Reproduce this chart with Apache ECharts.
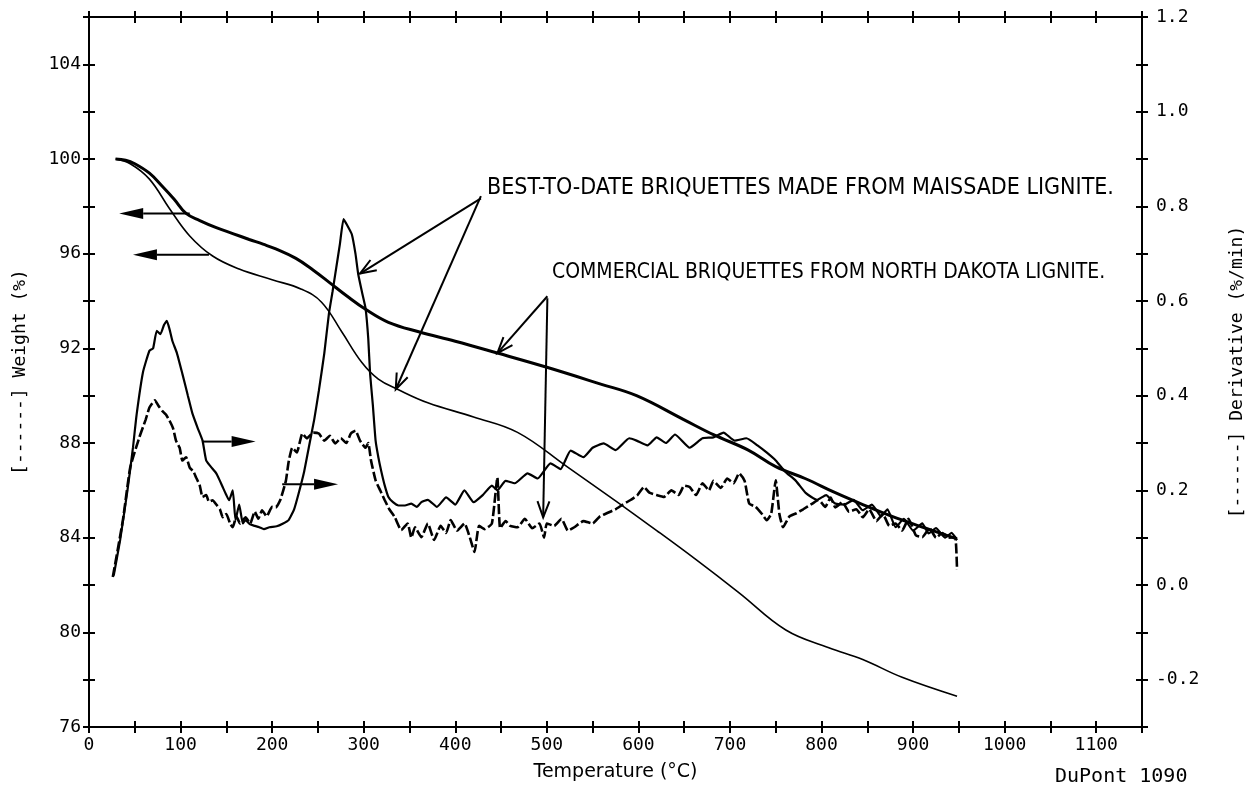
<!DOCTYPE html>
<html>
<head>
<meta charset="utf-8">
<title>TGA briquettes</title>
<script src="https://cdn.jsdelivr.net/npm/echarts@6/dist/echarts.min.js"></script>
<style>
  html, body { margin: 0; padding: 0; background: #fff; }
  #chart { width: 1254px; height: 790px; }
</style>
</head>
<body>
<div id="chart"></div>
<script>
// [temperature °C, weight %] - commercial briquettes, North Dakota lignite (heavy line)
const ndWeight = [
  [29, 100.0], [40, 99.95], [50, 99.8], [66, 99.4], [80, 98.85], [93, 98.3], [106, 97.7],
  [121, 97.4], [139, 97.1], [157, 96.85], [175, 96.6], [190, 96.4], [204, 96.2], [226, 95.8],
  [245, 95.3], [262, 94.8], [282, 94.2], [302, 93.65], [327, 93.1], [360, 92.7], [400, 92.3],
  [446, 91.8], [500, 91.2], [558, 90.5], [598, 90.0], [649, 89.0], [682, 88.35], [720, 87.7],
  [750, 87.0], [782, 86.5], [815, 85.9], [845, 85.4], [877, 84.9], [910, 84.45], [948, 83.95]
];
// best-to-date briquettes, Maissade lignite (thin line)
const maWeight = [
  [29, 100.0], [45, 99.8], [66, 99.15], [88, 97.9], [110, 96.75], [135, 95.9], [164, 95.35],
  [200, 94.9], [232, 94.5], [254, 93.95], [276, 92.7], [298, 91.4], [316, 90.7], [338, 90.25],
  [370, 89.7], [420, 89.1], [468, 88.45], [522, 87.0], [577, 85.5], [620, 84.3], [663, 83.07],
  [710, 81.67], [761, 80.1], [808, 79.35], [845, 78.85], [888, 78.1], [948, 77.3]
];
// derivative %/min, Maissade (solid)
const maDeriv = [
  [27, 0.02], [34, 0.095], [42, 0.2], [48, 0.29], [52, 0.36], [59, 0.45], [66, 0.495], [70, 0.5],
  [74, 0.537], [78, 0.53], [82, 0.55], [85, 0.558], [88, 0.54], [91, 0.516], [96, 0.49], [102, 0.446],
  [108, 0.4], [113, 0.362], [119, 0.33], [124, 0.305], [128, 0.263], [133, 0.25], [139, 0.236],
  [143, 0.22], [146, 0.207], [150, 0.19], [153, 0.179], [157, 0.2], [160, 0.137], [164, 0.17],
  [168, 0.13], [171, 0.137], [176, 0.128], [181, 0.125], [186, 0.122], [191, 0.118], [197, 0.122],
  [205, 0.124], [212, 0.13], [218, 0.137], [224, 0.16], [229, 0.194], [235, 0.24], [240, 0.29],
  [246, 0.35], [251, 0.41], [257, 0.49], [262, 0.573], [266, 0.62], [270, 0.67], [274, 0.72],
  [278, 0.773], [282, 0.76], [287, 0.741], [291, 0.7], [294, 0.657], [298, 0.62], [302, 0.585],
  [305, 0.52], [307, 0.446], [310, 0.38], [313, 0.305], [316, 0.27], [319, 0.242], [323, 0.21],
  [327, 0.186], [332, 0.175], [338, 0.168], [345, 0.168], [352, 0.172], [358, 0.165], [363, 0.175],
  [370, 0.18], [380, 0.165], [390, 0.185], [400, 0.17], [410, 0.2], [420, 0.175], [430, 0.19],
  [440, 0.21], [446, 0.2], [455, 0.22], [465, 0.215], [479, 0.236], [490, 0.225], [504, 0.257],
  [515, 0.245], [526, 0.284], [540, 0.27], [550, 0.29], [562, 0.299], [575, 0.285], [590, 0.31],
  [598, 0.305], [610, 0.295], [620, 0.312], [630, 0.3], [640, 0.318], [656, 0.29], [670, 0.31],
  [682, 0.312], [693, 0.322], [705, 0.305], [718, 0.31], [730, 0.295], [740, 0.28], [750, 0.263],
  [760, 0.24], [772, 0.22], [783, 0.194], [795, 0.18], [805, 0.19], [815, 0.172], [825, 0.17],
  [835, 0.18], [845, 0.158], [855, 0.17], [865, 0.145], [872, 0.16], [881, 0.122], [890, 0.14],
  [900, 0.115], [910, 0.13], [917, 0.109], [925, 0.12], [935, 0.1], [942, 0.11], [948, 0.095]
];
// derivative %/min, North Dakota (dashed)
const ndDeriv = [
  [26, 0.017], [37, 0.137], [45, 0.248], [55, 0.312], [62, 0.35], [66, 0.375], [72, 0.39],
  [76, 0.378], [80, 0.368], [84, 0.36], [88, 0.347], [92, 0.33], [95, 0.305], [99, 0.29],
  [102, 0.263], [106, 0.27], [110, 0.248], [114, 0.24], [117, 0.227], [121, 0.21], [124, 0.186],
  [128, 0.19], [131, 0.176], [135, 0.179], [139, 0.17], [143, 0.16], [146, 0.143], [150, 0.15],
  [154, 0.13], [157, 0.122], [161, 0.145], [165, 0.13], [171, 0.143], [176, 0.13], [181, 0.155],
  [185, 0.14], [189, 0.158], [194, 0.145], [200, 0.165], [204, 0.164], [209, 0.18], [215, 0.22],
  [218, 0.26], [222, 0.29], [227, 0.28], [233, 0.32], [238, 0.31], [245, 0.322], [251, 0.32],
  [257, 0.305], [263, 0.315], [269, 0.299], [275, 0.31], [281, 0.3], [286, 0.32], [291, 0.326],
  [296, 0.305], [302, 0.29], [305, 0.3], [308, 0.263], [313, 0.221], [318, 0.2], [323, 0.179],
  [328, 0.16], [334, 0.143], [341, 0.116], [348, 0.13], [352, 0.1], [356, 0.122], [363, 0.101],
  [370, 0.13], [377, 0.095], [384, 0.125], [390, 0.11], [395, 0.137], [402, 0.115], [410, 0.13],
  [416, 0.1], [421, 0.07], [426, 0.125], [432, 0.118], [440, 0.13], [446, 0.227], [449, 0.12],
  [455, 0.135], [460, 0.125], [468, 0.122], [476, 0.14], [484, 0.12], [492, 0.13], [497, 0.1],
  [500, 0.13], [508, 0.125], [516, 0.14], [523, 0.115], [530, 0.122], [540, 0.135], [550, 0.13],
  [558, 0.145], [566, 0.152], [575, 0.16], [583, 0.17], [591, 0.179], [599, 0.19], [606, 0.207],
  [612, 0.195], [620, 0.19], [628, 0.186], [636, 0.2], [644, 0.19], [650, 0.21], [656, 0.207],
  [663, 0.19], [670, 0.215], [677, 0.2], [682, 0.22], [690, 0.205], [697, 0.225], [704, 0.215],
  [710, 0.236], [716, 0.22], [721, 0.172], [728, 0.165], [735, 0.15], [740, 0.137], [745, 0.15],
  [750, 0.221], [754, 0.15], [758, 0.122], [765, 0.145], [772, 0.151], [780, 0.16], [790, 0.172],
  [797, 0.18], [804, 0.165], [810, 0.185], [815, 0.164], [823, 0.175], [830, 0.155], [838, 0.16],
  [845, 0.143], [852, 0.16], [860, 0.135], [867, 0.15], [874, 0.125], [881, 0.13], [888, 0.115],
  [895, 0.14], [903, 0.105], [910, 0.101], [918, 0.12], [925, 0.1], [932, 0.11], [940, 0.1],
  [946, 0.101], [948, 0.032]
];

// axis ranges
const tempRange = [0, 1150, 50];
const weightRange = [76, 106, 2];
const derivRange = [-0.3, 1.2, 0.1];

const labelText = {
  best: 'BEST-TO-DATE BRIQUETTES MADE FROM MAISSADE LIGNITE.',
  commercial: 'COMMERCIAL BRIQUETTES FROM NORTH DAKOTA LIGNITE.',
  xName: 'Temperature (°C)',
  yLeft: '[------] Weight (%)',
  yRight: '[------] Derivative (%/min)',
  maker: 'DuPont 1090'
};

const monoFont = "'DejaVu Sans Mono', monospace";
const narrowFont = "'Liberation Sans Narrow', 'DejaVu Sans Condensed', sans-serif";

function xAx(pos, inside, labels) {
  return {
    type: 'value', position: pos,
    min: tempRange[0], max: tempRange[1], interval: tempRange[2],
    axisLine: { show: !inside, onZero: false, lineStyle: { color: '#000', width: 2 } },
    axisTick: { show: true, inside: inside, length: 6, lineStyle: { color: '#000', width: 2 } },
    axisLabel: {
      show: labels, margin: 9, color: '#000', fontFamily: monoFont, fontSize: 18,
      formatter: v => (v % 100 === 0 ? String(v) : '')
    },
    splitLine: { show: false },
    name: labels ? labelText.xName : '',
    nameLocation: 'middle', nameGap: 36,
    nameTextStyle: { color: '#000', fontFamily: "'DejaVu Sans', sans-serif", fontSize: 19 }
  };
}

function yAx(pos, inside, labels, range, fmt, name, gap) {
  return {
    type: 'value', position: pos,
    min: range[0], max: range[1], interval: range[2],
    axisLine: { show: !inside, onZero: false, lineStyle: { color: '#000', width: 2 } },
    axisTick: { show: true, inside: inside, length: 6, lineStyle: { color: '#000', width: 2 } },
    axisLabel: { show: labels, margin: pos === 'left' ? 8 : 14, color: '#000', fontFamily: monoFont, fontSize: 18, formatter: fmt },
    splitLine: { show: false },
    name: labels ? name : '',
    nameLocation: 'middle', nameRotate: 90, nameGap: gap,
    nameTextStyle: { color: '#000', fontFamily: monoFont, fontSize: 18 }
  };
}

const weightFmt = v => ((v - 76) % 4 === 0 && v <= 104 ? String(v) : '');
const derivFmt = v => {
  const k = Math.round(v * 10);
  return k % 2 === 0 ? (k / 10).toFixed(1) : '';
};

const chart = echarts.init(document.getElementById('chart'));

chart.setOption({
  animation: false,
  backgroundColor: '#fff',
  grid: { left: 89, right: 106, top: 17, bottom: 63, containLabel: false },
  xAxis: [
    xAx('bottom', false, true),
    xAx('bottom', true, false),
    xAx('top', false, false),
    xAx('top', true, false)
  ],
  yAxis: [
    yAx('left', false, true, weightRange, weightFmt, labelText.yLeft, 60),
    yAx('left', true, false, weightRange, weightFmt, '', 0),
    yAx('right', false, true, derivRange, derivFmt, labelText.yRight, 86),
    yAx('right', true, false, derivRange, derivFmt, '', 0)
  ],
  series: [
    {
      name: 'ND weight', type: 'line', xAxisIndex: 0, yAxisIndex: 0, data: ndWeight,
      showSymbol: false, smooth: 0.4, lineStyle: { color: '#000', width: 3 }
    },
    {
      name: 'Maissade weight', type: 'line', xAxisIndex: 0, yAxisIndex: 0, data: maWeight,
      showSymbol: false, smooth: 0.4, lineStyle: { color: '#000', width: 1.6 }
    },
    {
      name: 'Maissade derivative', type: 'line', xAxisIndex: 0, yAxisIndex: 2, data: maDeriv,
      showSymbol: false, smooth: 0.15, lineStyle: { color: '#000', width: 2.2 }
    },
    {
      name: 'ND derivative', type: 'line', xAxisIndex: 0, yAxisIndex: 2, data: ndDeriv,
      showSymbol: false, smooth: 0.15, lineStyle: { color: '#000', width: 2.6, type: [10, 3] }
    }
  ]
});

// arrows in data coordinates: [axis, from, to, filled]
const arrows = [
  [0, [110, 97.7], [33, 97.7], true],
  [0, [131, 95.95], [48, 95.95], true],
  [2, [124, 0.303], [182, 0.303], true],
  [2, [211, 0.213], [272, 0.213], true],
  [2, [428, 0.817], [296, 0.658], false],
  [0, [428, 98.43], [335, 90.26], false],
  [0, [500.6, 94.2], [446, 91.8], false],
  [2, [500.6, 0.606], [496, 0.143], false]
];

function arrowEls(a, b, filled) {
  const len = filled ? 24 : 16, half = filled ? 5.5 : 6;
  const dx = b[0] - a[0], dy = b[1] - a[1], L = Math.hypot(dx, dy);
  const ux = dx / L, uy = dy / L;
  const bx = b[0] - ux * len, by = b[1] - uy * len;
  const p1 = [bx - uy * half, by + ux * half], p2 = [bx + uy * half, by - ux * half];
  const els = [{
    type: 'line', z: 10,
    shape: { x1: a[0], y1: a[1], x2: filled ? bx : b[0], y2: filled ? by : b[1] },
    style: { stroke: '#000', lineWidth: 2 }
  }];
  if (filled) {
    els.push({ type: 'polygon', z: 10, shape: { points: [b, p1, p2] }, style: { fill: '#000' } });
  } else {
    els.push({ type: 'polyline', z: 10, shape: { points: [p1, b, p2] }, style: { stroke: '#000', lineWidth: 2, fill: null } });
  }
  return els;
}

let graphics = [];
arrows.forEach(([ax, from, to, filled]) => {
  const a = chart.convertToPixel({ xAxisIndex: 0, yAxisIndex: ax }, from);
  const b = chart.convertToPixel({ xAxisIndex: 0, yAxisIndex: ax }, to);
  graphics = graphics.concat(arrowEls(a, b, filled));
});

graphics.push(
  {
    type: 'text', left: 487, top: 177, z: 10,
    style: { text: labelText.best, fill: '#000', font: '23px ' + narrowFont }
  },
  {
    type: 'text', left: 552, top: 262, z: 10,
    style: { text: labelText.commercial, fill: '#000', font: '21px ' + narrowFont }
  },
  {
    type: 'text', left: 1055, top: 767, z: 10,
    style: { text: labelText.maker, fill: '#000', font: '20px ' + monoFont }
  }
);

chart.setOption({ graphic: graphics });
</script>
</body>
</html>
